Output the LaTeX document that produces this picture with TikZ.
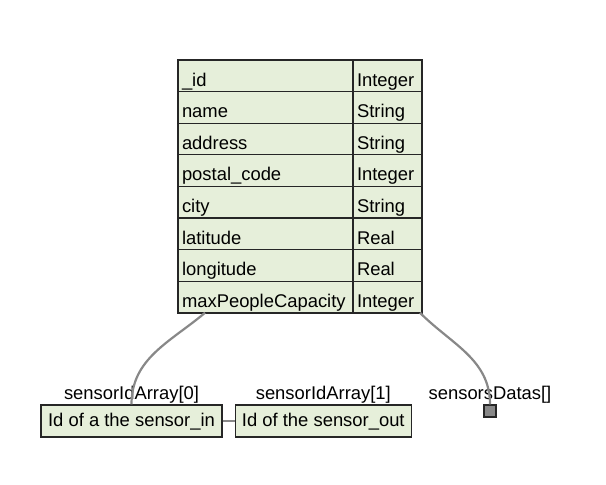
\documentclass[tikz,border=0pt]{standalone}
\usepackage{fontspec}
\setmainfont{Liberation Sans}
\usetikzlibrary{positioning}
\definecolor{cellgreen}{HTML}{E6EFDA}
\definecolor{edgedark}{HTML}{262626}
\definecolor{linkgray}{HTML}{888888}

\begin{document}
\begin{tikzpicture}[x=1pt,y=1pt,
  cell/.style={draw=edgedark,line width=1.3pt,fill=cellgreen,outer sep=0pt,
    minimum height=31.6pt,anchor=north west,inner xsep=4pt,inner ysep=0pt,
    text height=20.5pt,text depth=0pt,align=left,
    font=\fontsize{18.4}{21}\selectfont},
  namecell/.style={cell,text width=167pt},
  typecell/.style={cell,text width=61pt},
  elem/.style={draw=edgedark,line width=1.3pt,fill=cellgreen,minimum height=32pt,
    inner xsep=6pt,inner ysep=0pt,text height=15pt,text depth=5pt,
    font=\fontsize{18.4}{21}\selectfont},
  caption/.style={inner sep=0pt,anchor=base,font=\fontsize{18.4}{21}\selectfont},
  link/.style={draw=linkgray,line width=2.2pt}]
\useasboundingbox (0,0) rectangle (606,-485);

\foreach \fname/\ftype [count=\i] in {\_id/Integer, name/String, address/String,
  postal\_code/Integer, city/String, latitude/Real, longitude/Real,
  maxPeopleCapacity/Integer}
{
  \node[namecell] (n\i) at (178,{-60-(\i-1)*31.6}) {\fname};
  \node[typecell] (t\i) at (n\i.north east) {\ftype};
}
\draw[edgedark,line width=1.6pt] (n1.north west) rectangle (t8.south east);

\node[elem,minimum width=181pt] (in) at (131.5,-421) {Id of a the sensor\_in};
\node[elem,minimum width=176pt,right=12pt of in] (out) {Id of the sensor\_out};
\node[caption] (inlbl) at ([yshift=5pt]in.north) {sensorIdArray[0]};
\node[caption] (outlbl) at ([yshift=5pt]out.north) {sensorIdArray[1]};

\node[draw=edgedark,line width=1.2pt,fill=linkgray,minimum size=12pt,inner sep=0pt] (ds) at (490,-411) {};
\node[caption] (dslbl) at ([yshift=5pt]ds.north) {sensorsDatas[]};

\draw[link] ([xshift=27pt]n8.south west) to[out=-140,in=90] (in.north);
\draw[link] ([xshift=-2pt]t8.south east) to[out=-45,in=90] (ds.north);
\draw[link] (in) -- (out);
\end{tikzpicture}
\end{document}
